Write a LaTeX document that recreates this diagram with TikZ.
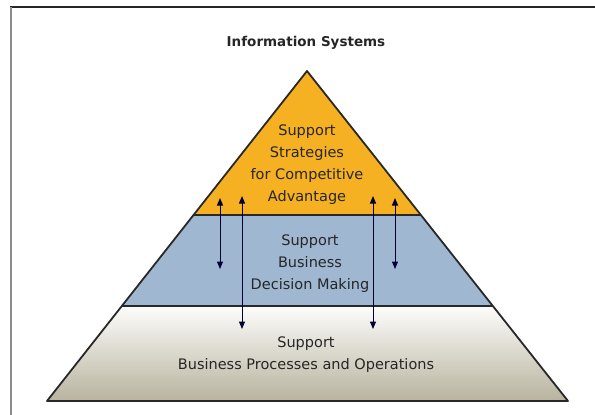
\documentclass[tikz,border=0pt]{standalone}
\usepackage{fontspec}
\setmainfont{DejaVu Sans}
\usetikzlibrary{calc,arrows.meta}

\definecolor{apexgold}{RGB}{245,177,33}
\definecolor{midblue}{RGB}{160,183,210}
\definecolor{basetan}{RGB}{184,179,158}
\definecolor{edgegray}{RGB}{40,40,40}

\begin{document}
\begin{tikzpicture}[x=1pt, y=-1pt,
    layertext/.style={align=center, text=black!85, font=\fontsize{14.5}{22}\selectfont},
    rim/.style={draw=edgegray, line width=1.8pt, line join=round},
    updown/.style={{Triangle[length=7.5pt,width=6pt]}-{Triangle[length=7.5pt,width=6pt]}, line width=1pt, draw=black!80!blue}]
  \useasboundingbox (0,0) rectangle (595,415);
  % frame of the page
  \draw[black!85, line width=2pt] (10,7) -- (595,7);
  \draw[black!45, line width=1.4pt] (11,7) -- (11,415);

  \node[font=\bfseries\fontsize{13.5}{16}\selectfont, text=black!85] (title) at (306,43) {Information Systems};

  % corners of the pyramid and its layers
  \coordinate (top) at (307,71);
  \coordinate (bl) at (47,401);
  \coordinate (br) at (568,401);
  \coordinate (ol) at ($(top)!0.4364!(bl)$);
  \coordinate (or) at ($(top)!0.4364!(br)$);
  \coordinate (ml) at ($(top)!0.7121!(bl)$);
  \coordinate (mr) at ($(top)!0.7121!(br)$);

  \fill[apexgold] (top) -- (or) -- (ol) -- cycle;
  \fill[midblue] (ol) -- (or) -- (mr) -- (ml) -- cycle;
  \shade[top color=white!96!basetan, bottom color=basetan] (ml) -- (mr) -- (br) -- (bl) -- cycle;
  \draw[rim] (top) -- (br) -- (bl) -- cycle;
  \draw[rim] (ol) -- (or);
  \draw[rim] (ml) -- (mr);

  \node[layertext] (strategy) at (307,165) {Support\\Strategies\\for Competitive\\Advantage};
  \node[layertext] (decision) at (310,264) {Support\\Business\\Decision Making};
  \node[layertext] (operations) at (306,355) {Support\\Business Processes and Operations};

  % links between the layers
  \coordinate (a1) at (220,198);
  \coordinate (b1) at (220,269);
  \coordinate (a2) at (242,196);
  \coordinate (b2) at (242,329);
  \coordinate (a3) at (373,196);
  \coordinate (b3) at (373,329);
  \coordinate (a4) at (395,198);
  \coordinate (b4) at (395,269);
  \draw[updown] (a1) -- (b1);
  \draw[updown] (a2) -- (b2);
  \draw[updown] (a3) -- (b3);
  \draw[updown] (a4) -- (b4);
\end{tikzpicture}
\end{document}
